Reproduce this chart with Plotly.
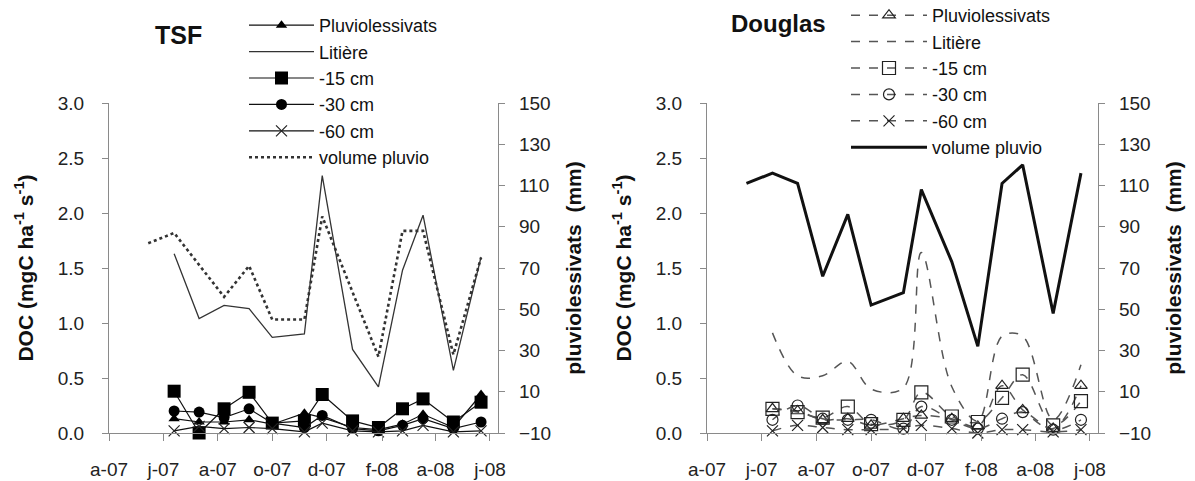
import plotly.graph_objects as go

# ---------------- data ----------------
dates = ["2007-05-15", "2007-06-13", "2007-07-11", "2007-08-08", "2007-09-05",
         "2007-10-01", "2007-11-06", "2007-11-26", "2007-12-30", "2008-01-28",
         "2008-02-24", "2008-03-18", "2008-04-21", "2008-05-22"]

tick_dates = ["2007-04-01", "2007-06-01", "2007-08-01", "2007-10-01",
              "2007-12-01", "2008-02-01", "2008-04-01", "2008-06-01"]
tick_text = ["a-07", "j-07", "a-07", "o-07", "d-07", "f-08", "a-08", "j-08"]

# TSF (DOC, mgC ha-1 s-1) and rainfall volume (mm)
tsf_pluvio = [None, 0.13, 0.10, 0.10, 0.12, 0.08, 0.18, 0.14, 0.05, 0.03, 0.08, 0.17, 0.05, 0.35]
tsf_litiere = [None, 1.63, 1.04, 1.16, 1.13, 0.87, 0.90, 2.34, 0.76, 0.42, 1.48, 1.98, 0.57, 1.60]
tsf_15 = [None, 0.38, 0.00, 0.22, 0.37, 0.09, 0.11, 0.35, 0.11, 0.05, 0.22, 0.31, 0.10, 0.28]
tsf_30 = [None, 0.20, 0.19, 0.14, 0.22, 0.09, 0.05, 0.16, 0.04, 0.02, 0.07, 0.13, 0.04, 0.10]
tsf_60 = [None, 0.02, 0.06, 0.04, 0.05, 0.04, 0.01, 0.09, 0.02, 0.01, 0.02, 0.07, 0.01, 0.02]
tsf_vol = [82, 87, None, 56, 71, 45, 45, 95, None, 27, 88, 88, 28, 75]

# Douglas
dg_pluvio = [None, 0.22, 0.20, 0.12, 0.13, 0.07, 0.13, 0.16, 0.13, 0.06, 0.43, 0.21, 0.04, 0.43]
dg_litiere = [None, 0.91, 0.52, 0.52, 0.65, 0.40, 0.41, 1.64, 0.42, 0.11, 0.88, 0.88, 0.12, 0.62]
dg_15 = [None, 0.22, 0.19, 0.14, 0.24, 0.08, 0.12, 0.37, 0.15, 0.10, 0.32, 0.53, 0.07, 0.29]
dg_30 = [None, 0.12, 0.25, 0.13, 0.12, 0.12, 0.04, 0.24, 0.12, 0.04, 0.13, 0.19, 0.03, 0.12]
dg_60 = [None, 0.02, 0.07, 0.05, 0.03, 0.03, 0.04, 0.07, 0.04, 0.00, 0.03, 0.03, 0.01, 0.03]
dg_vol = [111, 116, 111, 66, 96, 52, 58, 108, 73, 32, 111, 120, 48, 116]

# ---------------- style ----------------
FONT = "Liberation Sans, Arial, sans-serif"
AXC = "#8a8a8a"
W, H = 1195, 481

fig = go.Figure()

def doc_trace(y, name, xa, ya, legend, marker=None, line=None, shape="linear"):
    return go.Scatter(x=dates, y=y, name=name, xaxis=xa, yaxis=ya, legend=legend,
                      mode="lines+markers" if marker else "lines",
                      marker=marker, line=dict(shape=shape, **line), cliponaxis=False)

# TSF panel
blk = dict(color="#111111", width=1.2)
fig.add_trace(doc_trace(tsf_pluvio, "Pluviolessivats", "x", "y", "legend",
                        marker=dict(symbol="triangle-up", size=10, color="#000"), line=blk))
fig.add_trace(doc_trace(tsf_litiere, "Litière", "x", "y", "legend",
                        line=dict(color="#333333", width=1.3)))
fig.add_trace(doc_trace(tsf_15, "-15 cm", "x", "y", "legend",
                        marker=dict(symbol="square", size=13, color="#000"), line=blk))
fig.add_trace(doc_trace(tsf_30, "-30 cm", "x", "y", "legend",
                        marker=dict(symbol="circle", size=11, color="#000"), line=blk))
fig.add_trace(doc_trace(tsf_60, "-60 cm", "x", "y", "legend",
                        marker=dict(symbol="x-thin", size=11, color="#000",
                                    line=dict(color="#222", width=1.2)), line=blk))
fig.add_trace(go.Scatter(x=dates, y=tsf_vol, name="volume pluvio", xaxis="x", yaxis="y2",
                         legend="legend", mode="lines", connectgaps=True,
                         line=dict(color="#333333", width=2.6, dash="dot")))

# Douglas panel
dsh = dict(color="#555555", width=1.5, dash="dash")
ol = dict(color="#222", width=1.2)
fig.add_trace(doc_trace(dg_pluvio, "Pluviolessivats", "x2", "y3", "legend2",
                        marker=dict(symbol="triangle-up-open", size=11, color="#222", line=ol),
                        line=dsh, shape="spline"))
fig.add_trace(doc_trace(dg_litiere, "Litière", "x2", "y3", "legend2",
                        line=dsh, shape="spline"))
fig.add_trace(doc_trace(dg_15, "-15 cm", "x2", "y3", "legend2",
                        marker=dict(symbol="square-open", size=13, color="#222", line=ol),
                        line=dsh, shape="spline"))
fig.add_trace(doc_trace(dg_30, "-30 cm", "x2", "y3", "legend2",
                        marker=dict(symbol="circle-open", size=11, color="#222", line=ol),
                        line=dsh, shape="spline"))
fig.add_trace(doc_trace(dg_60, "-60 cm", "x2", "y3", "legend2",
                        marker=dict(symbol="x-thin", size=11, color="#222", line=ol),
                        line=dsh, shape="spline"))
fig.add_trace(go.Scatter(x=dates, y=dg_vol, name="volume pluvio", xaxis="x2", yaxis="y4",
                         legend="legend2", mode="lines",
                         line=dict(color="#111111", width=3)))

tickfont = dict(family=FONT, size=19, color="#222")
titlefont = dict(family=FONT, size=21, color="#111", weight="bold")
ydom = [1 - 433 / H, 1 - 103 / H]

def xax(dom, anchor):
    return dict(domain=dom, anchor=anchor, type="date", automargin=False,
                range=["2007-04-01", "2008-06-10"],
                tickmode="array", tickvals=tick_dates, ticktext=tick_text,
                ticks="outside", ticklen=7, tickcolor=AXC, showline=True, linecolor=AXC,
                linewidth=1.3, showgrid=False, zeroline=False, tickfont=tickfont,
                ticklabelstandoff=12)

def yleft(anchor):
    return dict(domain=ydom, anchor=anchor, range=[0, 3], dtick=0.5, tickformat=".1f",
                automargin=False,
                ticks="outside", ticklen=6, tickcolor=AXC, showline=True, linecolor=AXC,
                linewidth=1.3, showgrid=False, zeroline=False, tickfont=tickfont,
                ticklabelstandoff=14,
                title=dict(text="DOC (mgC ha<sup>-1</sup> s<sup>-1</sup>)", font=titlefont,
                           standoff=18))

def yright(overlay, anchor):
    return dict(overlaying=overlay, anchor=anchor, side="right", range=[-10, 150],
                automargin=False,
                tickmode="array", tickvals=[-10, 10, 30, 50, 70, 90, 110, 130, 150],
                ticks="outside", ticklen=6, tickcolor=AXC, showline=True, linecolor=AXC,
                linewidth=1.3, showgrid=False, zeroline=False, tickfont=tickfont,
                ticklabelstandoff=10,
                title=dict(text="pluviolessivats  (mm)", font=titlefont, standoff=16))

leg_common = dict(xanchor="left", yanchor="top", bgcolor="rgba(0,0,0,0)",
                  font=dict(family=FONT, size=18, color="#111"),
                  tracegroupgap=0, traceorder="normal")

fig.update_layout(
    width=W, height=H, margin=dict(l=0, r=0, t=0, b=0, autoexpand=False),
    paper_bgcolor="white", plot_bgcolor="white",
    xaxis=xax([109 / W, 498 / W], "y"),
    yaxis=yleft("x"),
    yaxis2=yright("y", "x"),
    xaxis2=xax([707 / W, 1098 / W], "y3"),
    yaxis3=yleft("x2"),
    yaxis4=yright("y3", "x2"),
    legend=dict(x=244 / W, y=1 - 7 / H, itemwidth=65, **leg_common),
    legend2=dict(x=846 / W, y=1 + 3 / H, itemwidth=76, **leg_common),
    annotations=[
        dict(text="<b>TSF</b>", x=204 / W, y=1 - 35 / H, xref="paper", yref="paper",
             xanchor="right", yanchor="middle", showarrow=False,
             font=dict(family=FONT, size=25, color="#111")),
        dict(text="<b>Douglas</b>", x=828 / W, y=1 - 23 / H, xref="paper", yref="paper",
             xanchor="right", yanchor="middle", showarrow=False,
             font=dict(family=FONT, size=24, color="#111")),
    ],
)

fig.write_html("out.html",
               config={"displayModeBar": False},
               post_script="document.body.style.margin='0px';"
                           "document.body.style.overflow='hidden';")
